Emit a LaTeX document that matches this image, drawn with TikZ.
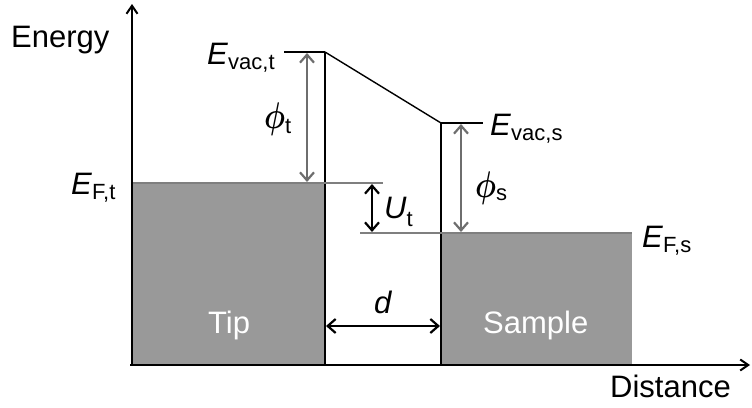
\documentclass[tikz,border=0pt]{standalone}
\usepackage{fontspec}
\setmainfont{Liberation Sans}
\usetikzlibrary{arrows.meta}
\definecolor{fillgray}{HTML}{999999}
\definecolor{arrgray}{HTML}{6E6E6E}
\definecolor{levgray}{HTML}{7F7F7F}
\newcommand\mysub[2]{\raisebox{-#1}{\fontsize{22}{22}\selectfont #2}}
\newcommand\bigphi{\resizebox*{21pt}{33pt}{\boldmath$\phi$}}
\begin{document}
\begin{tikzpicture}[x=1pt,y=-1pt,
  lbl/.style={font=\fontsize{31}{36}\selectfont, inner sep=0pt, anchor=base west},
  axisline/.style={line width=2.5pt, -{Straight Barb[length=8pt,width=11pt,line width=2pt]}},
  wall/.style={line width=2.5pt},
  level/.style={line width=1.3pt, levgray},
  vac/.style={line width=1.4pt, black},
  grayarrow/.style={line width=2.5pt, arrgray, {Straight Barb[length=8pt,width=14pt,line width=2.2pt]}-{Straight Barb[length=8pt,width=14pt,line width=2.2pt]}},
  blackarrow/.style={line width=2.5pt, black, {Straight Barb[length=8pt,width=14pt,line width=2.2pt]}-{Straight Barb[length=8pt,width=14pt,line width=2.2pt]}}
]
\useasboundingbox (0,0) rectangle (752,407);

% blocks
\fill[fillgray] (133,183) rectangle (325,365);
\fill[fillgray] (441,233) rectangle (632,365);

% key points
\coordinate (origin) at (132,365);
\coordinate (xstart) at (130,365);
\coordinate (ytop) at (132,4);
\coordinate (xend) at (750,365);
\coordinate (tvac) at (325,52);
\coordinate (tbot) at (325,365);
\coordinate (svac) at (441,123);
\coordinate (sbot) at (441,365);
\coordinate (tvacL) at (284,52);
\coordinate (svacR) at (483,123);
\coordinate (tF) at (325,183);
\coordinate (tFR) at (383,183);
\coordinate (sFL) at (360,233);
\coordinate (sF) at (441,233);
\coordinate (phitT) at (307,53);
\coordinate (phitB) at (307,182);
\coordinate (phisT) at (461,124);
\coordinate (phisB) at (461,232);
\coordinate (UtT) at (372,184);
\coordinate (UtB) at (372,232);
\coordinate (dL) at (326,326);
\coordinate (dR) at (440,326);

% axes
\draw[axisline] (origin) -- (ytop);
\draw[axisline] (xstart) -- (xend);

% walls and vacuum level
\draw[wall] (tvac) -- (tbot);
\draw[wall] (svac) -- (sbot);
\draw[vac] (tvac) -- (svac);
\draw[vac] (tvacL) -- (tvac);
\draw[vac] (svac) -- (svacR);

% Fermi level lines
\draw[level] (133,183) -- (tF);
\draw[level] (tF) -- (tFR);
\draw[level] (sFL) -- (sF);
\draw[level] (sF) -- (632,233);

% arrows
\draw[grayarrow] (phitT) -- (phitB);
\draw[grayarrow] (phisT) -- (phisB);
\draw[blackarrow] (UtT) -- (UtB);
\draw[blackarrow] (dL) -- (dR);

% labels
\node[lbl] (energy) at (11,47) {Energy};
\node[lbl] (distance) [anchor=base east] at (731,397) {Distance};
\node[lbl, white] (tip) at (208,333) {Tip};
\node[lbl, white] (sample) at (483,333) {Sample};
\node[lbl] (evact) at (207,64) {\textit{E}\mysub{5pt}{vac,t}};
\node[lbl] (evacs) at (490,135) {\textit{E}\mysub{5pt}{vac,s}};
\node[lbl] (eft) at (71,194) {\textit{E}\mysub{5pt}{F,t}};
\node[lbl] (efs) at (642,247) {\textit{E}\mysub{5pt}{F,s}};
\node[lbl] (phit) at (264,128) {\bigphi\mysub{5pt}{t}};
\node[lbl] (phis) at (475,197) {\bigphi\mysub{3pt}{s}};
\node[lbl] (ut) at (384,218) {\textit{U}\mysub{8pt}{t}};
\node[lbl] (dlab) at (374,313) {\textit{d}};
\end{tikzpicture}
\end{document}
